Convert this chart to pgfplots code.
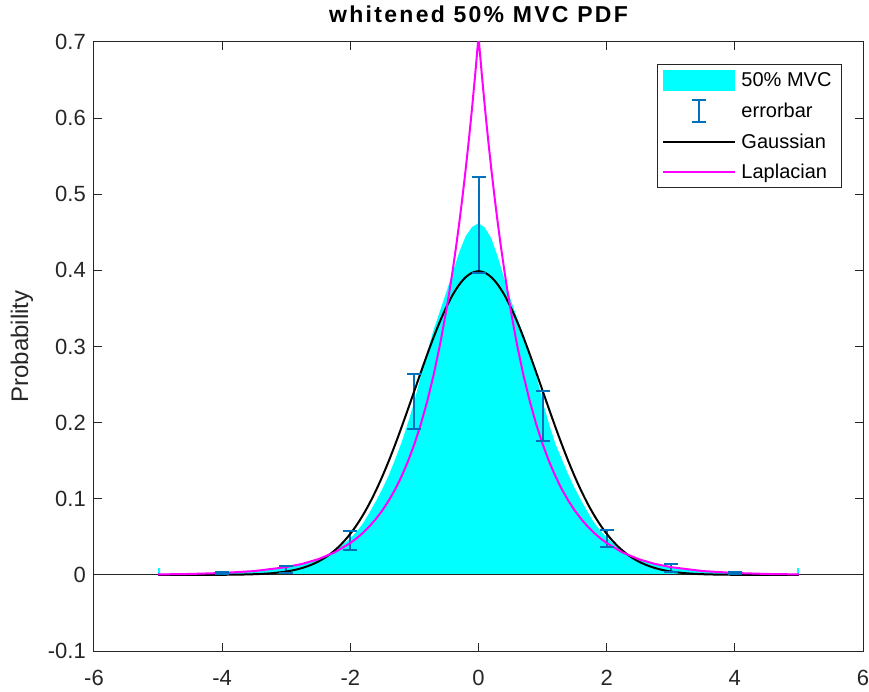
\documentclass[border=0pt]{standalone}
\usepackage{pgfplots}
\pgfplotsset{compat=1.18}
\usepackage{fontspec}
\setmainfont{Liberation Sans}
\newfontfamily\titlefont[LetterSpace=10]{Liberation Sans}
\definecolor{axgray}{rgb}{0.15,0.15,0.15}
\definecolor{matblue}{rgb}{0,0.447,0.741}
\definecolor{mcyan}{rgb}{0,1,1}
\definecolor{mmag}{rgb}{1,0,1}
\begin{document}
\begin{tikzpicture}
\path[use as bounding box] (-94pt,-40pt) rectangle (775pt,651pt);
\begin{axis}[
  at={(0pt,0pt)}, anchor=south west,
  scale only axis, width=769pt, height=609pt,
  xmin=-6, xmax=6, ymin=-0.1, ymax=0.7,
  xtick={-6,-4,-2,0,2,4,6},
  xticklabels={-6,-4,-2,0,2,4,6},
  ytick={-0.1,0,0.1,0.2,0.3,0.4,0.5,0.6,0.7},
  yticklabels={-0.1,0,0.1,0.2,0.3,0.4,0.5,0.6,0.7},
  tick align=inside, major tick length=8pt,
  axis line style={draw=axgray, line width=1pt},
  tick style={axgray, line width=1pt},
  tick label style={font=\fontsize{22}{26}\selectfont, text=axgray},
  xticklabel style={yshift=-16pt},
  yticklabel style={xshift=-4.7pt},
  title={\titlefont\bfseries whitened 50\% MVC PDF},
  title style={at={(axis description cs:0.5,1)}, anchor=base, yshift=13pt, font=\fontsize{23}{27}\selectfont, text=black},
  ylabel={Probability},
  every axis y label/.style={at={(axis description cs:-0.0936,0.5)}, anchor=center, rotate=90, font=\fontsize{24}{28}\selectfont, text=axgray},
  legend style={at={(axis description cs:1,1)}, anchor=north east, xshift=-21pt, yshift=-22pt,
    draw=axgray, line width=1pt, fill=white, font=\fontsize{20}{24}\selectfont, text=black,
    row sep=8pt, inner xsep=5pt, inner ysep=5pt, nodes={inner xsep=5pt, inner ysep=3pt}},
  legend cell align=left,
  unbounded coords=jump,
]
% histogram
\addplot[fill=mcyan, draw=none,
  legend image code/.code={\fill[mcyan] (0pt,-10.5pt) rectangle (72pt,10.5pt);}]
coordinates {
(-5,0) (-5,0.009) (-4.97,0.009) (-4.97,0.0007) (-4.5,0.001) (-4,0.0022) (-3.5,0.0045)
(-3.25,0.0065) (-3,0.0095) (-2.8,0.013) (-2.6,0.0175) (-2.5,0.020) (-2.4,0.024)
(-2.2,0.034) (-2,0.048) (-1.9,0.057) (-1.8,0.068) (-1.7,0.082) (-1.6,0.097)
(-1.5,0.113) (-1.4,0.131) (-1.3,0.152) (-1.2,0.174) (-1.1,0.200) (-1,0.228)
(-0.9,0.262) (-0.8,0.292) (-0.7,0.322) (-0.6,0.347) (-0.5,0.372) (-0.4,0.398)
(-0.3,0.424) (-0.2,0.445) (-0.1,0.457) (0,0.462) (0.1,0.456) (0.2,0.442)
(0.3,0.418) (0.4,0.390) (0.5,0.362) (0.6,0.338) (0.7,0.316) (0.8,0.290)
(0.9,0.263) (1,0.228) (1.1,0.198) (1.2,0.172) (1.3,0.152) (1.4,0.132)
(1.5,0.114) (1.6,0.098) (1.7,0.083) (1.8,0.069) (1.9,0.058) (2,0.049)
(2.2,0.034) (2.4,0.024) (2.5,0.020) (2.6,0.0175) (2.8,0.013) (3,0.0095)
(3.25,0.0065) (3.5,0.0045) (4,0.0022) (4.5,0.001) (4.97,0.0007) (4.97,0.009)
(5,0.009) (5,0)
} \closedcycle;
\addlegendentry{50\% MVC}
% zero line
\addplot[axgray, line width=1pt, forget plot] coordinates {(-6,0) (6,0)};
% error bars: vertical segments (bottom, top)
\addplot[matblue, line width=2pt, mark=none,
  legend image code/.code={
    \path[draw=none] (0pt,0pt) -- (72pt,0pt);
    \draw[matblue, line width=2pt] (36pt,-11pt) -- (36pt,11pt);
    \draw[matblue, line width=2pt] (29pt,-11pt) -- (43pt,-11pt);
    \draw[matblue, line width=2pt] (29pt,11pt) -- (43pt,11pt);}]
coordinates {
(-4,0.001) (-4,0.004) (-4,nan)
(-3,0.003) (-3,0.012) (-3,nan)
(-2,0.0333) (-2,0.0578) (-2,nan)
(-1,0.191) (-1,0.264) (-1,nan)
(0,0.396) (0,0.523) (0,nan)
(1,0.1765) (1,0.2418) (1,nan)
(2,0.036) (2,0.059) (2,nan)
(3,0.0044) (3,0.0145) (3,nan)
(4,0.001) (4,0.004)
};
\addlegendentry{errorbar}
% error bar caps
\addplot[matblue, only marks, mark=-, mark size=7pt, mark options={line width=2pt, draw=matblue}, forget plot]
coordinates {
(-4,0.001) (-4,0.004)
(-3,0.003) (-3,0.012)
(-2,0.0333) (-2,0.0578)
(-1,0.191) (-1,0.264)
(0,0.396) (0,0.523)
(1,0.1765) (1,0.2418)
(2,0.036) (2,0.059)
(3,0.0044) (3,0.0145)
(4,0.001) (4,0.004)
};
% Gaussian
\addplot[black, line width=2pt, smooth,
  legend image code/.code={\draw[black, line width=2pt] (0pt,0pt) -- (72pt,0pt);}]
coordinates {
(-5,0.0000015) (-4.5,0.000016) (-4,0.000134) (-3.8,0.000292) (-3.6,0.000612)
(-3.4,0.001232) (-3.2,0.002384) (-3,0.004432) (-2.9,0.005953) (-2.8,0.007915)
(-2.7,0.010421) (-2.6,0.013583) (-2.5,0.017528) (-2.4,0.022395) (-2.3,0.028327)
(-2.2,0.035475) (-2.1,0.043984) (-2,0.053991) (-1.9,0.065616) (-1.8,0.078950)
(-1.7,0.094049) (-1.6,0.110921) (-1.5,0.129518) (-1.4,0.149727) (-1.3,0.171369)
(-1.2,0.194186) (-1.1,0.217852) (-1,0.241971) (-0.9,0.266085) (-0.8,0.289692)
(-0.7,0.312254) (-0.6,0.333225) (-0.5,0.352065) (-0.4,0.368270) (-0.3,0.381388)
(-0.2,0.391043) (-0.1,0.396953) (0,0.398942)
(0.1,0.396953) (0.2,0.391043) (0.3,0.381388) (0.4,0.368270) (0.5,0.352065)
(0.6,0.333225) (0.7,0.312254) (0.8,0.289692) (0.9,0.266085) (1,0.241971)
(1.1,0.217852) (1.2,0.194186) (1.3,0.171369) (1.4,0.149727) (1.5,0.129518)
(1.6,0.110921) (1.7,0.094049) (1.8,0.078950) (1.9,0.065616) (2,0.053991)
(2.1,0.043984) (2.2,0.035475) (2.3,0.028327) (2.4,0.022395) (2.5,0.017528)
(2.6,0.013583) (2.7,0.010421) (2.8,0.007915) (2.9,0.005953) (3,0.004432)
(3.2,0.002384) (3.4,0.001232) (3.6,0.000612) (3.8,0.000292) (4,0.000134)
(4.5,0.000016) (5,0.0000015)
};
\addlegendentry{Gaussian}
% Laplacian
\addplot[mmag, line width=2pt, line join=round,
  legend image code/.code={\draw[mmag, line width=2pt] (0pt,0pt) -- (72pt,0pt);}]
coordinates {
(-5,0.000601) (-4.5,0.001218) (-4,0.002470) (-3.5,0.005010) (-3,0.010161)
(-2.75,0.014470) (-2.5,0.020607) (-2.25,0.029347) (-2,0.041794) (-1.9,0.048148)
(-1.8,0.055456) (-1.7,0.063889) (-1.6,0.073582) (-1.5,0.084763) (-1.4,0.097630)
(-1.3,0.112476) (-1.2,0.129560) (-1.1,0.149251) (-1,0.171910) (-0.9,0.198025)
(-0.8,0.228107) (-0.7,0.262758) (-0.6,0.302673) (-0.5,0.348652) (-0.45,0.374204)
(-0.4,0.401616) (-0.35,0.431033) (-0.3,0.462626) (-0.25,0.496523) (-0.2,0.532904)
(-0.15,0.571924) (-0.1,0.613855) (-0.05,0.658834) (0,0.707107)
(0.05,0.658834) (0.1,0.613855) (0.15,0.571924) (0.2,0.532904) (0.25,0.496523)
(0.3,0.462626) (0.35,0.431033) (0.4,0.401616) (0.45,0.374204) (0.5,0.348652)
(0.6,0.302673) (0.7,0.262758) (0.8,0.228107) (0.9,0.198025) (1,0.171910)
(1.1,0.149251) (1.2,0.129560) (1.3,0.112476) (1.4,0.097630) (1.5,0.084763)
(1.6,0.073582) (1.7,0.063889) (1.8,0.055456) (1.9,0.048148) (2,0.041794)
(2.25,0.029347) (2.5,0.020607) (2.75,0.014470) (3,0.010161) (3.5,0.005010)
(4,0.002470) (4.5,0.001218) (5,0.000601)
};
\addlegendentry{Laplacian}
\end{axis}
\end{tikzpicture}
\end{document}
